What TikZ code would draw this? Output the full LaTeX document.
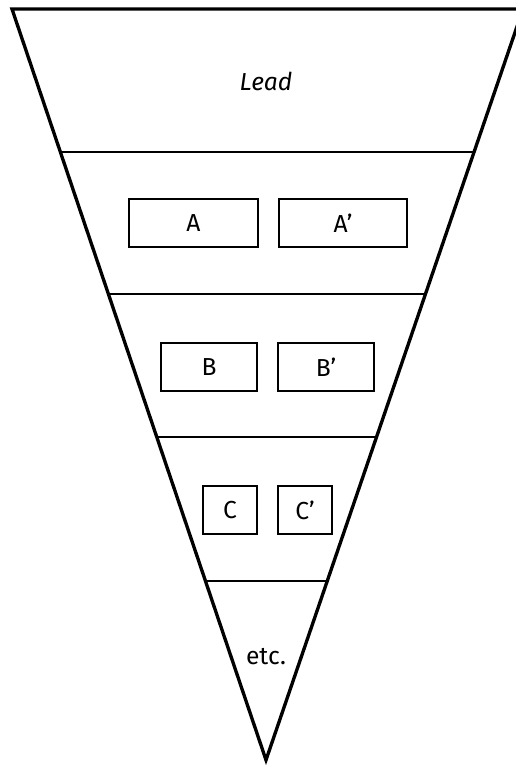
\documentclass[tikz,border=0pt]{standalone}
\usepackage{fontspec}
\setmainfont{Fira Sans}

\tikzset{
  part/.style={draw, line width=1.2pt, minimum height=0.96cm, inner sep=0pt,
    font=\fontsize{14}{16}\selectfont},
}

\begin{document}
\begin{tikzpicture}[x=0.02cm,y=-0.02cm]
\useasboundingbox (0,0) rectangle (516,766);
\clip (0,0) rectangle (516,766);
% funnel
\draw[line width=1.9pt, line join=miter] (12,9) -- (523,9) -- (266,760) -- cycle;
\draw[line width=1.3pt] (60.4,152) -- (474.3,152);
\draw[line width=1.3pt] (108.4,294) -- (425.7,294);
\draw[line width=1.3pt] (156.8,437) -- (376.5,437);
\draw[line width=1.3pt] (205.5,581) -- (327.2,581);
\node[font=\fontsize{14}{16}\selectfont\itshape] (lead) at (266,81) {Lead};
\node[part, minimum width=2.58cm] (a) at (193.5,223) {A};
\node[part, minimum width=2.56cm] (a2) at (343,223) {A’};
\node[part, minimum width=1.92cm] (b) at (209,367) {B};
\node[part, minimum width=1.92cm] (b2) at (326,367) {B’};
\node[part, minimum width=1.08cm] (c) at (230,510) {C};
\node[part, minimum width=1.08cm] (c2) at (305,510) {C’};
\node[font=\fontsize{14}{16}\selectfont] (etc) at (266,657) {etc.};
\end{tikzpicture}
\end{document}
